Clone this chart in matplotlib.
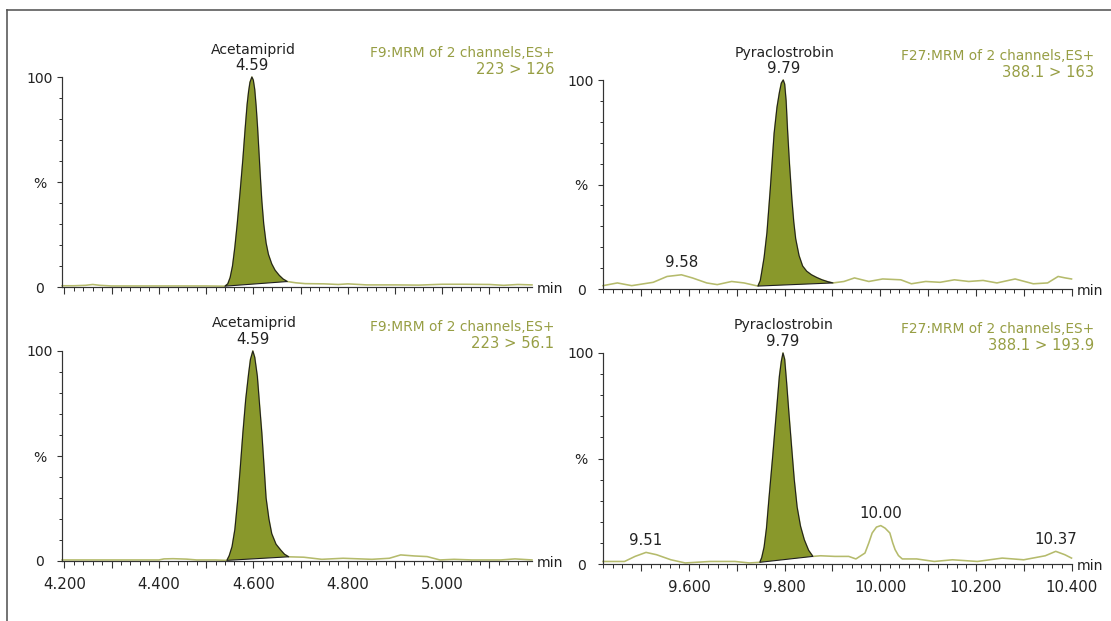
import matplotlib
matplotlib.use("Agg")
import matplotlib.pyplot as plt
from matplotlib.lines import Line2D
from matplotlib.ticker import MultipleLocator, FixedLocator, FuncFormatter

W, H, DPI = 1111, 621, 72   # at 72 dpi one point is one pixel

plt.rcParams['font.family'] = ['DejaVu Sans']

# ---- chromatogram traces (time in min, intensity in %) ----
# Acetamiprid, 223 > 126
ace1_t = [4.195, 4.22, 4.245, 4.26, 4.275, 4.30, 4.35, 4.40, 4.45, 4.50,
          4.540, 4.546, 4.551, 4.556, 4.561, 4.566, 4.572, 4.578, 4.583,
          4.587, 4.590, 4.593, 4.597, 4.600, 4.603, 4.606, 4.609, 4.612,
          4.615, 4.618, 4.622, 4.627, 4.632, 4.639, 4.646, 4.655, 4.663,
          4.672, 4.69, 4.71, 4.75, 4.78, 4.80, 4.84, 4.90, 4.95,
          5.00, 5.05, 5.10, 5.13, 5.16, 5.19]
ace1_y = [0.6, 0.6, 0.8, 1.2, 0.8, 0.5, 0.5, 0.5, 0.5, 0.5,
          0.4, 1.5, 4.5, 10, 19, 30, 45, 61, 76,
          87, 93, 97.5, 100, 98.5, 94, 86, 76, 64,
          52, 41, 30, 21, 15.5, 11, 8, 5.5, 3.8,
          2.6, 2.0, 1.6, 1.5, 1.2, 1.5, 1.0, 1.0, 0.9,
          1.3, 1.3, 1.2, 0.8, 1.2, 1.0]
ace1_base = (4.540, 4.672)

# Acetamiprid, 223 > 56.1
ace2_t = [4.195, 4.25, 4.30, 4.35, 4.40, 4.411, 4.43, 4.458, 4.48, 4.52,
          4.544, 4.549, 4.555, 4.561, 4.567, 4.572, 4.578, 4.584, 4.590,
          4.594, 4.599, 4.603, 4.6085, 4.613, 4.618, 4.623, 4.627, 4.633,
          4.639, 4.648, 4.658, 4.666, 4.675, 4.707, 4.745, 4.790, 4.851,
          4.888, 4.912, 4.941, 4.968, 4.995, 5.025, 5.063, 5.124, 5.154, 5.19]
ace2_y = [0.5, 0.5, 0.5, 0.5, 0.5, 1.0, 1.1, 0.9, 0.5, 0.5,
          0.3, 2.5, 6.8, 15, 29, 43, 61, 77, 89,
          96, 100, 97, 88, 75, 61, 44, 30, 20,
          13, 8, 5.2, 3.2, 2.0, 1.8, 0.8, 1.3, 0.8,
          1.3, 2.9, 2.4, 2.1, 0.5, 0.8, 0.5, 0.5, 1.0, 0.5]
ace2_base = (4.544, 4.675)

# Pyraclostrobin, 388.1 > 163
pyr1_t = [9.420, 9.450, 9.480, 9.525, 9.554, 9.584, 9.607, 9.637, 9.659,
          9.689, 9.715, 9.744, 9.749, 9.752, 9.757, 9.763, 9.770, 9.778,
          9.784, 9.789, 9.793, 9.797, 9.800, 9.803, 9.806, 9.810, 9.815,
          9.819, 9.823, 9.830, 9.8375, 9.846, 9.856, 9.867, 9.878, 9.890,
          9.901, 9.924, 9.946, 9.976, 10.005, 10.043, 10.065, 10.095, 10.125,
          10.155, 10.185, 10.215, 10.244, 10.282, 10.32, 10.35, 10.372,
          10.387, 10.40]
pyr1_y = [1.6, 2.9, 1.6, 3.2, 6.0, 6.8, 5.3, 2.9, 2.1,
          3.6, 2.9, 1.4, 4, 8, 15, 27, 48, 74.5,
          87, 94, 98.5, 100, 98, 90, 76, 60, 43,
          32, 24, 16, 11, 8.5, 6.8, 5.5, 4.4, 3.5,
          2.9, 3.6, 5.3, 3.6, 4.8, 4.4, 2.5, 3.6, 3.2,
          4.4, 3.6, 4.1, 2.9, 4.8, 2.5, 2.9, 6.0,
          5.3, 4.8]
pyr1_base = (9.744, 9.901)

# Pyraclostrobin, 388.1 > 193.9
pyr2_t = [9.420, 9.465, 9.487, 9.510, 9.532, 9.562, 9.592, 9.644, 9.696,
          9.726, 9.748, 9.752, 9.757, 9.762, 9.767, 9.775, 9.782, 9.789,
          9.793, 9.7965, 9.800, 9.804, 9.809, 9.815, 9.820, 9.826, 9.833,
          9.841, 9.850, 9.859, 9.875, 9.905, 9.934, 9.949, 9.968, 9.976,
          9.983, 9.992, 10.001, 10.010, 10.020, 10.026, 10.031, 10.038,
          10.046, 10.076, 10.113, 10.151, 10.203, 10.255, 10.30, 10.345,
          10.367, 10.386, 10.40]
pyr2_y = [1.2, 1.2, 3.6, 5.5, 4.4, 2.0, 0.5, 1.2, 1.2,
          0.5, 0.8, 3, 8, 17, 30.5, 51, 70, 89,
          96, 100, 97, 86, 71, 54, 40, 27, 18,
          11.5, 6.5, 3.6, 3.9, 3.6, 3.6, 2.4, 5.2, 10,
          14.7, 17.5, 18.2, 17, 14.7, 10, 6.8, 4,
          2.4, 2.4, 1.2, 2.0, 1.2, 2.8, 2.0, 3.9,
          6.0, 4.4, 2.8]
pyr2_base = (9.748, 9.859)

# labelled peaks: (time, height, label)
ace1_peaks = [(4.597, 100, '4.59')]
ace2_peaks = [(4.599, 100, '4.59')]
pyr1_peaks = [(9.797, 100, '9.79'), (9.584, 6.8, '9.58')]
pyr2_peaks = [(9.7965, 100, '9.79'), (9.510, 5.5, '9.51'),
              (10.001, 18.2, '10.00'), (10.367, 6.0, '10.37')]

compounds = ['Acetamiprid', 'Acetamiprid', 'Pyraclostrobin', 'Pyraclostrobin']
functions = ['F9:MRM of 2 channels,ES+', 'F9:MRM of 2 channels,ES+',
             'F27:MRM of 2 channels,ES+', 'F27:MRM of 2 channels,ES+']
transitions = ['223 > 126', '223 > 56.1', '388.1 > 163', '388.1 > 193.9']
y_ticks = [0, 50, 100]
y_tick_labels = ['0', '%', '100']

left_xlim = (4.195, 5.19)
right_xlim = (9.42, 10.401)

# colours
FILL = '#89982b'
TRACE = '#b5bb6c'
HEAD = '#979e44'
AXC = '#333333'
TXT = '#222222'

fig = plt.figure(figsize=(W / DPI, H / DPI), dpi=DPI)
fig.patch.set_facecolor('white')


def px_axes(l, t, r, b):
    return fig.add_axes([l / W, 1 - b / H, (r - l) / W, (b - t) / H])


# axes boxes in pixels: left, top, right, bottom
panels = [
    (px_axes(62, 77, 532, 287), ace1_t, ace1_y, ace1_base, ace1_peaks, left_xlim, False),
    (px_axes(62, 351, 532, 561), ace2_t, ace2_y, ace2_base, ace2_peaks, left_xlim, True),
    (px_axes(603, 80, 1072, 289), pyr1_t, pyr1_y, pyr1_base, pyr1_peaks, right_xlim, False),
    (px_axes(603, 353, 1072, 564), pyr2_t, pyr2_y, pyr2_base, pyr2_peaks, right_xlim, True),
]


def xfmt(v, pos):
    if abs(round(v / 0.2) * 0.2 - v) < 1e-6:
        return f'{v:.3f}'
    return ''


for i, (ax, t, y, base, peaks, xlim, lab) in enumerate(panels):
    # trace
    ax.plot(t, y, color=TRACE, lw=1.6, zorder=2, clip_on=False,
            solid_joinstyle='round')
    # integrated peak: polygon closed by straight baseline
    pt = [a for a in t if base[0] <= a <= base[1]]
    py = [b for a, b in zip(t, y) if base[0] <= a <= base[1]]
    ax.fill(pt, py, facecolor=FILL, edgecolor='#1e1e1e', lw=1.1, zorder=3,
            clip_on=False, joinstyle='round')

    ax.set_xlim(*xlim)
    ax.set_ylim(0, 100)
    for s in ['top', 'right']:
        ax.spines[s].set_visible(False)
    for s in ['left', 'bottom']:
        ax.spines[s].set_color(AXC)
        ax.spines[s].set_linewidth(1.2)

    ax.xaxis.set_major_locator(MultipleLocator(0.1))
    ax.xaxis.set_minor_locator(MultipleLocator(0.02))
    if lab:
        ax.xaxis.set_major_formatter(FuncFormatter(xfmt))
    else:
        ax.set_xticklabels([])
    ax.yaxis.set_major_locator(FixedLocator(y_ticks))
    ax.yaxis.set_minor_locator(MultipleLocator(10))
    ax.set_yticklabels(y_tick_labels)
    for lbl in ax.get_yticklabels():
        lbl.set_horizontalalignment('center')

    ax.tick_params(axis='x', which='major', direction='out', length=7, width=1.1,
                   color=AXC, labelsize=15, labelcolor=TXT, pad=9)
    ax.tick_params(axis='x', which='minor', direction='out', length=4, width=1.0,
                   color=AXC)
    ax.tick_params(axis='y', which='major', direction='out', length=5, width=1.1,
                   color=AXC, labelsize=14, labelcolor=TXT, pad=17)
    ax.tick_params(axis='y', which='minor', direction='out', length=3, width=1.0,
                   color=AXC)

    ax.annotate('min', xy=(1, 0), xycoords='axes fraction', xytext=(5, -2),
                textcoords='offset points', ha='left', va='center',
                fontsize=14, color=TXT)

    # header on the right
    ax.annotate(functions[i], xy=(1, 1), xycoords='axes fraction', xytext=(22, 24),
                textcoords='offset points', ha='right', va='center',
                fontsize=13.8, color=HEAD, annotation_clip=False)
    ax.annotate(transitions[i], xy=(1, 1), xycoords='axes fraction', xytext=(22, 8),
                textcoords='offset points', ha='right', va='center',
                fontsize=14.8, color=HEAD, annotation_clip=False)

    # peak labels
    for k, (pt_, ph, txt) in enumerate(peaks):
        ax.annotate(txt, xy=(pt_, ph), xytext=(0, 12), textcoords='offset points',
                    ha='center', va='center', fontsize=15, color=TXT,
                    annotation_clip=False)
        if k == 0:
            ax.annotate(compounds[i], xy=(pt_, ph), xytext=(1, 27.5),
                        textcoords='offset points', ha='center', va='center',
                        fontsize=14, color=TXT, annotation_clip=False)

# outer frame (top and left edges are visible in the picture)
fig.add_artist(Line2D([7 / W, 1], [1 - 10 / H, 1 - 10 / H], transform=fig.transFigure,
                      color='#555555', lw=1.6))
fig.add_artist(Line2D([7 / W, 7 / W], [0, 1 - 10 / H], transform=fig.transFigure,
                      color='#555555', lw=1.6))

fig.savefig('out.png', dpi=DPI, facecolor='white')
